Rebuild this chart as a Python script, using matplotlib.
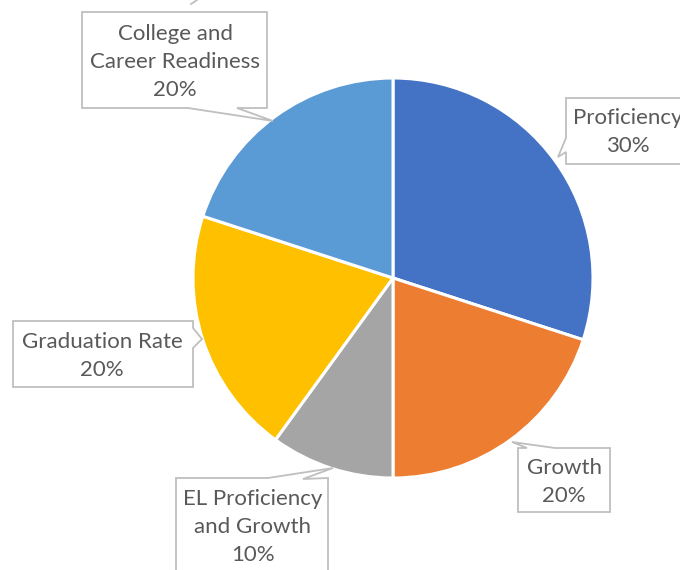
import matplotlib
matplotlib.use("Agg")
import matplotlib.pyplot as plt
from matplotlib.patches import Polygon

labels = ["Proficiency", "Growth", "EL Proficiency\nand Growth", "Graduation Rate", "College and\nCareer Readiness"]
values = [30, 20, 10, 20, 20]
colors = ["#4472C4", "#ED7D31", "#A5A5A5", "#FFC000", "#5B9BD5"]

W, H = 680, 570
fig = plt.figure(figsize=(W / 100, H / 100), dpi=100)
ax = fig.add_axes([0, 0, 1, 1])

def P(x, y):
    return (x, H - y)

ax.pie(values, colors=colors, startangle=90, counterclock=False,
       center=P(393, 278), radius=200,
       wedgeprops=dict(edgecolor="white", linewidth=2.2))

# callout shapes (pixel coords), text centre
callouts = [
    ([(566, 98), (700, 98), (700, 164), (566, 164), (566, 152), (558, 157), (566, 138)], (628, 132)),
    ([(518, 448), (527, 448), (512, 442), (555, 448), (610, 448), (610, 512), (518, 512)], (564, 482)),
    ([(176, 478), (268, 478), (333, 468), (303, 479), (328, 478), (328, 600), (176, 600)], (253, 527)),
    ([(13, 321), (193, 321), (193, 328), (202, 339), (193, 348), (193, 387), (13, 387)], (102, 356)),
    ([(82, 12), (267, 12), (267, 108), (237, 108), (273, 121), (188, 108), (82, 108)], (175, 62)),
]

for (pts, (tx, ty)), lab, v in zip(callouts, labels, values):
    poly = Polygon([P(*p) for p in pts], closed=True, facecolor="white",
                   edgecolor="#BFBFBF", linewidth=1.3, zorder=5)
    ax.add_patch(poly)
    ax.text(*P(tx, ty), f"{lab}\n{v}%", ha="center", va="center",
            fontsize=16, family="Lato", color="#595959",
            linespacing=1.5, zorder=6)

# small stray pointer fragment at top
ax.plot([P(191, 4)[0], P(197, 0)[0]], [P(191, 4)[1], P(197, 0)[1]],
        color="#BFBFBF", lw=1.3, zorder=5)

ax.set_xlim(0, W)
ax.set_ylim(0, H)
ax.set_aspect("auto")
ax.axis("off")
fig.savefig("out.png", dpi=100, facecolor="white")
